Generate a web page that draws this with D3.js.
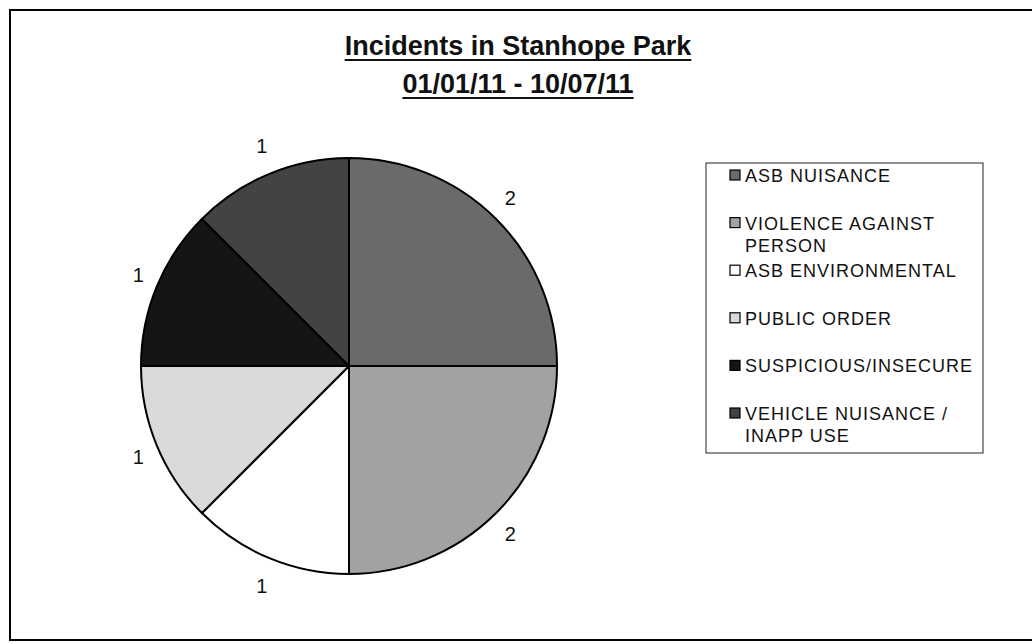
<!DOCTYPE html>
<html>
<head>
<meta charset="utf-8">
<script src="https://cdn.jsdelivr.net/npm/d3@7"></script>
<style>
  body { margin: 0; background: #fff; }
  text { font-family: Arial, "Liberation Sans", sans-serif; }
</style>
</head>
<body>
<script>
(function () {
    'use strict';

    var titleLines = ['Incidents in Stanhope Park', '01/01/11 - 10/07/11'];
    var categories = ['ASB NUISANCE', 'VIOLENCE AGAINST PERSON', 'ASB ENVIRONMENTAL',
        'PUBLIC ORDER', 'SUSPICIOUS/INSECURE', 'VEHICLE NUISANCE / INAPP USE'];
    var counts = [2, 2, 1, 1, 1, 1];
    var fills = ['#6a6a6a', '#a2a2a2', '#ffffff', 'url(#poGrad)', '#151515', '#434343'];

    var width = 1032, height = 644;
    var cx = 349, cy = 366, r = 208;

    var svg = d3.select('body')
        .append('svg')
        .attr('width', width)
        .attr('height', height);

    var defs = svg.append('defs');
    var grad = defs.append('linearGradient')
        .attr('id', 'poGrad')
        .attr('gradientUnits', 'userSpaceOnUse')
        .attr('x1', 0).attr('y1', cy)
        .attr('x2', 0).attr('y2', cy + 80);
    grad.append('stop').attr('offset', '0%').attr('stop-color', '#dadada');
    grad.append('stop').attr('offset', '100%').attr('stop-color', '#ffffff');

    // chart frame (right edge runs off the page)
    svg.append('rect')
        .attr('x', 10)
        .attr('y', 10)
        .attr('width', 1040)
        .attr('height', 630)
        .attr('fill', 'none')
        .attr('stroke', '#000')
        .attr('stroke-width', 2);

    // title, bold and underlined
    var titleY = [55, 93];
    titleLines.forEach(function (t, i) {
        var txt = svg.append('text')
            .attr('x', 518)
            .attr('y', titleY[i])
            .attr('text-anchor', 'middle')
            .attr('font-size', 27)
            .attr('font-weight', 'bold')
            .attr('fill', '#111')
            .text(t);
        var w = txt.node().getComputedTextLength();
        svg.append('line')
            .attr('x1', 518 - w / 2)
            .attr('x2', 518 + w / 2)
            .attr('y1', titleY[i] + 5)
            .attr('y2', titleY[i] + 5)
            .attr('stroke', '#111')
            .attr('stroke-width', 2);
    });

    var pie = d3.pie().sort(null).value(function (d) { return d; });
    var arcs = pie(counts);
    var arc = d3.arc().innerRadius(0).outerRadius(r);

    var g = svg.append('g')
        .attr('transform', 'translate(' + cx + ',' + cy + ')');

    g.selectAll('path')
        .data(arcs)
        .enter()
        .append('path')
        .attr('d', arc)
        .attr('fill', function (d, i) { return fills[i]; })
        .attr('stroke', '#000')
        .attr('stroke-width', 2)
        .attr('stroke-linejoin', 'round');

    // value labels sit just outside the rim
    function midAngle(d) { return (d.startAngle + d.endAngle) / 2; }
    g.selectAll('text.val')
        .data(arcs)
        .enter()
        .append('text')
        .attr('class', 'val')
        .attr('x', function (d) { return (r + 20) * Math.sin(midAngle(d)); })
        .attr('y', function (d) { return -(r + 30) * Math.cos(midAngle(d)); })
        .attr('dy', '0.35em')
        .attr('text-anchor', 'middle')
        .attr('font-size', 20)
        .attr('fill', '#111')
        .text(function (d) { return d.data; });

    // legend
    var lx = 706, ly = 163, lw = 277, lh = 290;
    svg.append('rect')
        .attr('x', lx)
        .attr('y', ly)
        .attr('width', lw)
        .attr('height', lh)
        .attr('fill', '#fff')
        .attr('stroke', '#222')
        .attr('stroke-width', 1);

    var item = svg.selectAll('g.item')
        .data(categories)
        .enter()
        .append('g')
        .attr('class', 'item')
        .attr('transform', function (d, i) {
            return 'translate(' + (lx + 24) + ',' + (182 + i * 47.6) + ')';
        });

    item.append('rect')
        .attr('x', 0)
        .attr('y', -12)
        .attr('width', 10)
        .attr('height', 10)
        .attr('fill', function (d, i) { return fills[i]; })
        .attr('stroke', '#000')
        .attr('stroke-width', 1.2);

    item.append('text')
        .attr('x', 15)
        .attr('y', 0)
        .attr('font-size', 18)
        .attr('letter-spacing', 1)
        .attr('fill', '#111')
        .each(function (d) {
            var el = d3.select(this);
            var words = d.split(' ');
            var line = [];
            var tspan = el.append('tspan').attr('x', 15).attr('dy', 0);
            words.forEach(function (w) {
                line.push(w);
                tspan.text(line.join(' '));
                if (tspan.node().getComputedTextLength() > 225 && line.length > 1) {
                    line.pop();
                    tspan.text(line.join(' '));
                    line = [w];
                    tspan = el.append('tspan').attr('x', 15).attr('dy', 22).text(w);
                }
            });
        });

}());
</script>
</body>
</html>
